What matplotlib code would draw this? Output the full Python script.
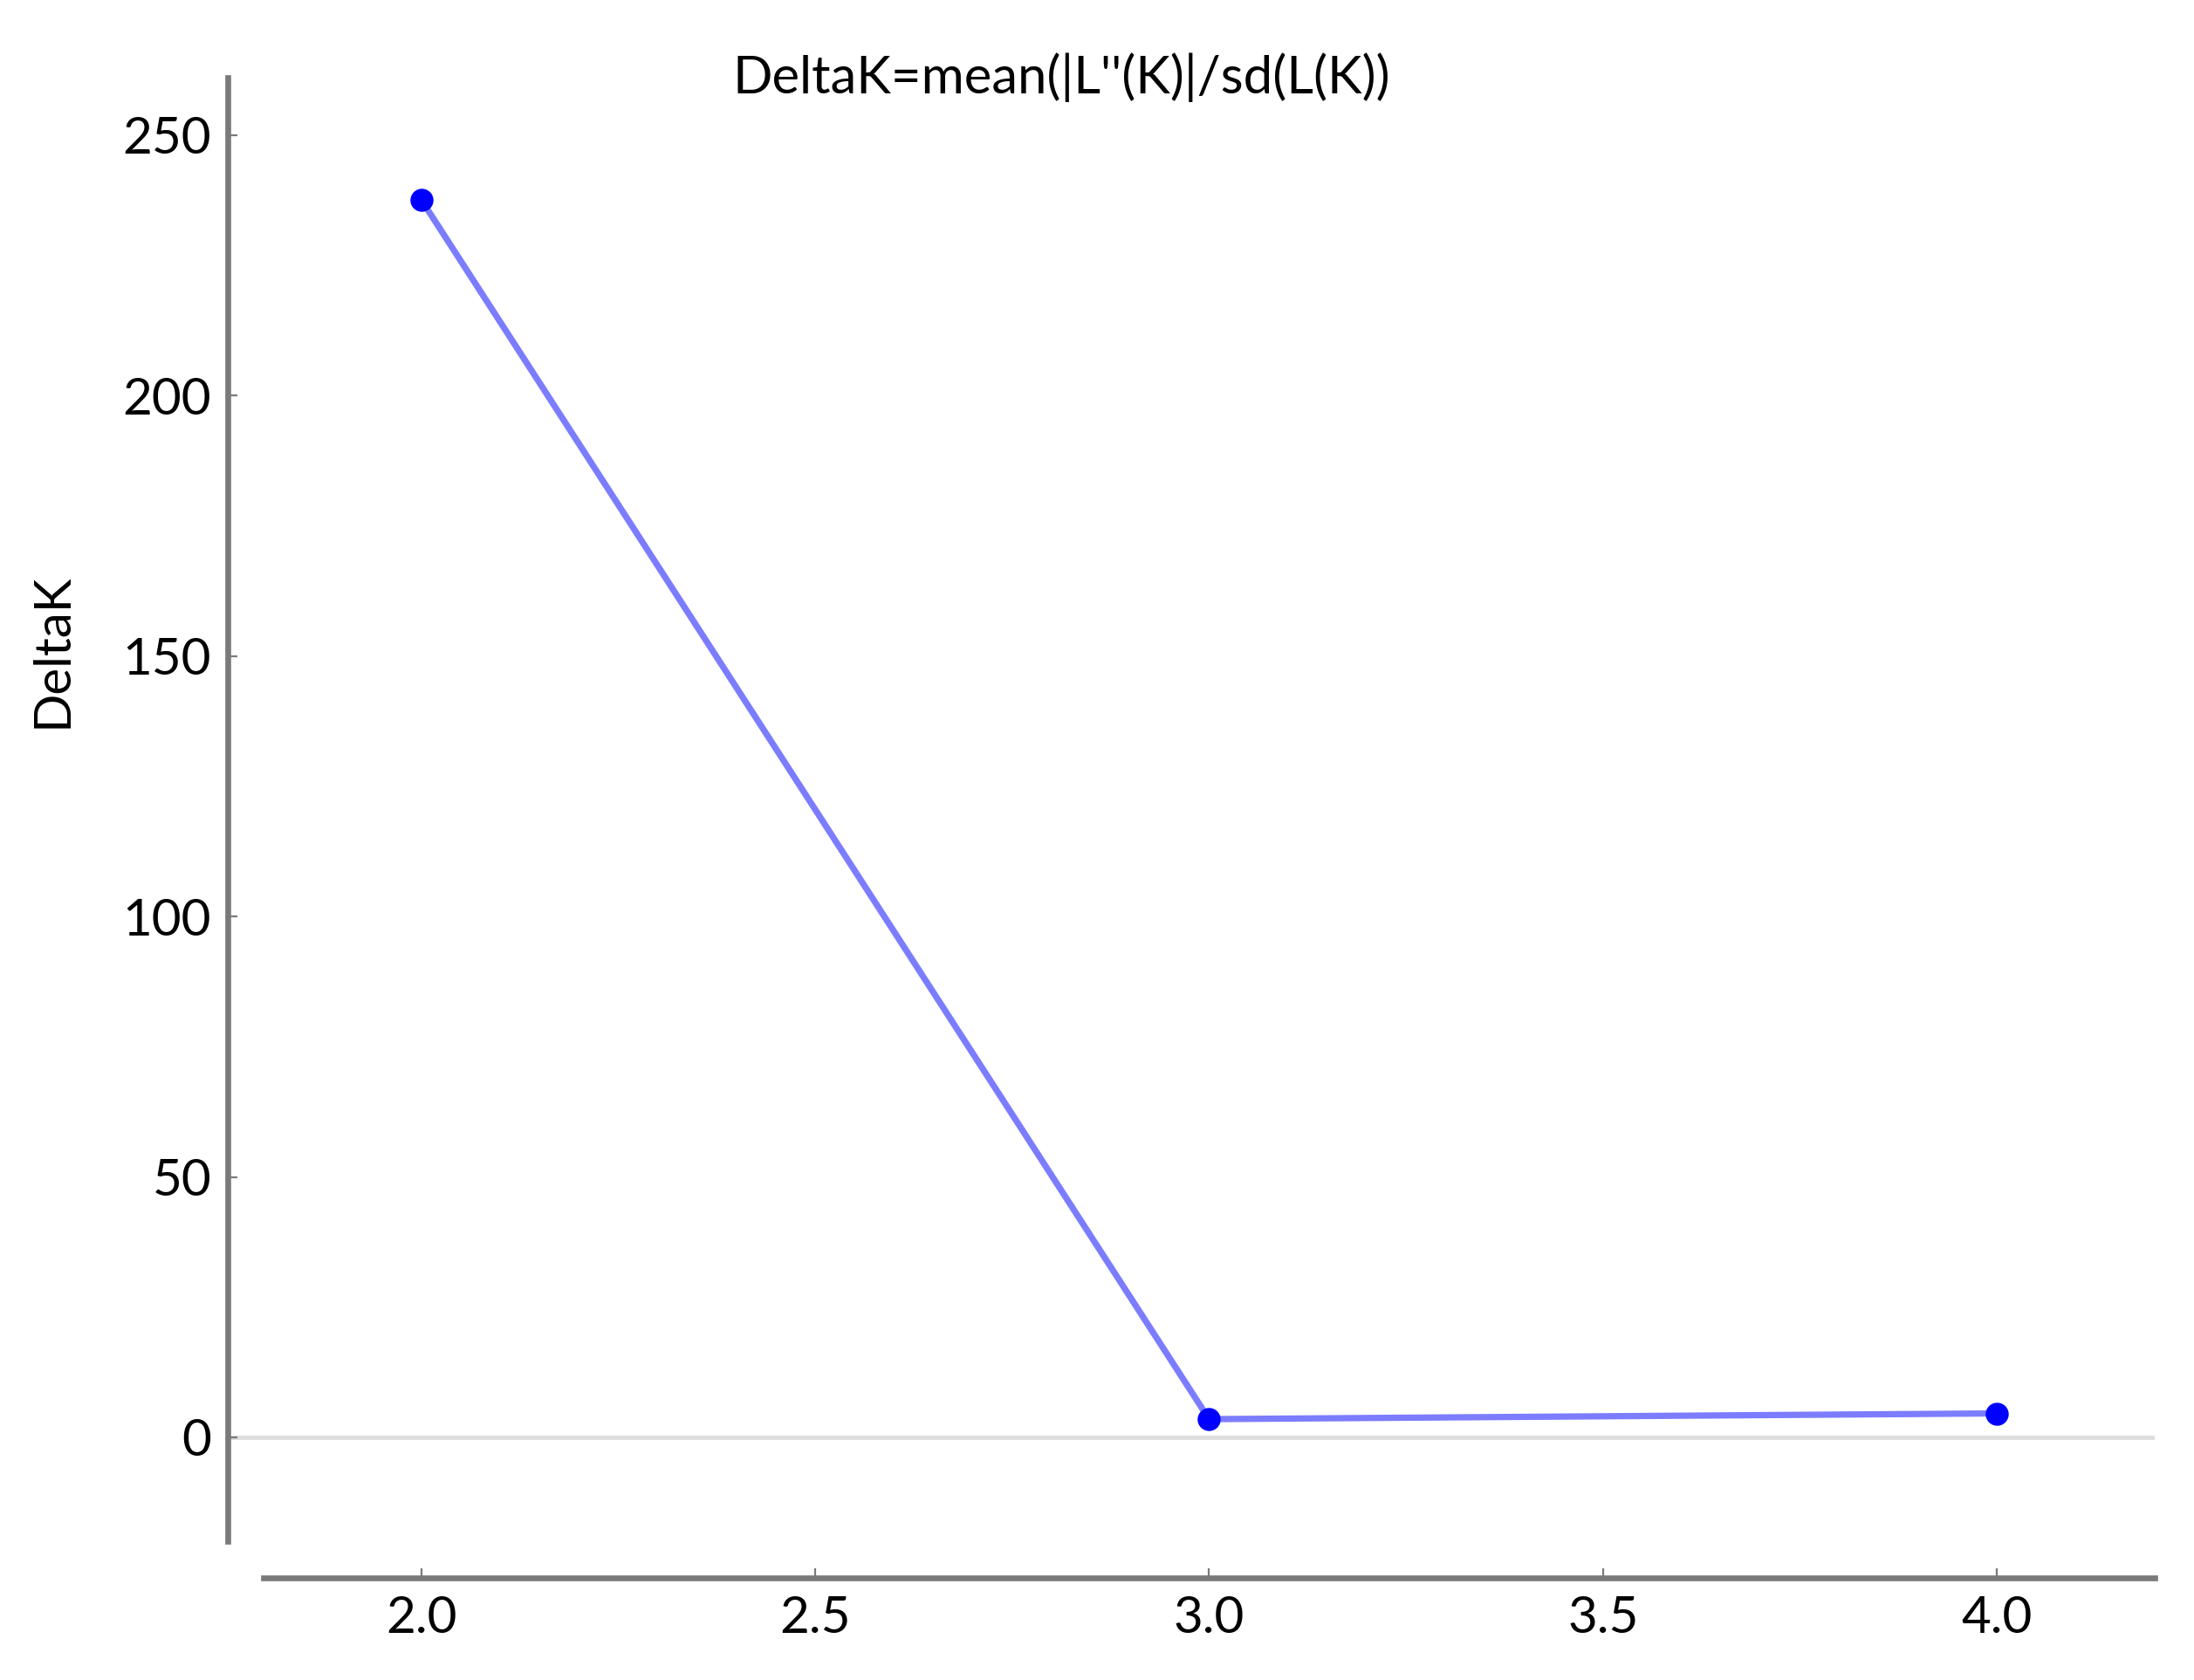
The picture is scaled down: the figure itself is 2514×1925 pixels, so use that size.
import matplotlib
matplotlib.use("Agg")
import matplotlib.pyplot as plt

plt.rcParams['font.family'] = ['Lato', 'DejaVu Sans']

# values
k_values = [2.0, 3.0, 4.0]
delta_k = [237.6, 3.5, 4.6]
x_ticks = [2.0, 2.5, 3.0, 3.5, 4.0]
y_ticks = [0, 50, 100, 150, 200, 250]

spine_col = '#7a7a7a'

fig = plt.figure(figsize=(12.57, 9.625), dpi=200)
ax = fig.add_axes([0.104, 0.0607, 0.878, 0.893])

# zero reference line
ax.axhline(0, color='#dedede', lw=1.8, zorder=1)

# the line and the points
ax.plot(k_values, delta_k, color='#7c7cff', lw=2.6, zorder=2)
ax.plot(k_values, delta_k, 'o', color='#0000ff', markersize=8.5, zorder=3)

ax.set_xlim(1.755, 4.2)
ax.set_ylim(-27, 261)
ax.set_xticks(x_ticks)
ax.set_yticks(y_ticks)
ax.set_xticklabels([f"{v:.1f}" for v in x_ticks])

for s in ['top', 'right']:
    ax.spines[s].set_visible(False)
for s in ['left', 'bottom']:
    ax.spines[s].set_color(spine_col)
    ax.spines[s].set_linewidth(2.4)
ax.spines['left'].set_bounds(-20, 261)
ax.spines['bottom'].set_bounds(1.80, 4.2)

ax.tick_params(direction='in', length=4, width=0.8, color=spine_col,
               labelsize=21, pad=7)

fig.text(0.484, 0.954, "DeltaK=mean(|L''(K)|/sd(L(K))", ha='center', va='center',
         fontsize=21.5)
fig.text(0.024, 0.613, "DeltaK", rotation=90, ha='center', va='center', fontsize=21)

fig.savefig("out.png", dpi=200, facecolor='white')
